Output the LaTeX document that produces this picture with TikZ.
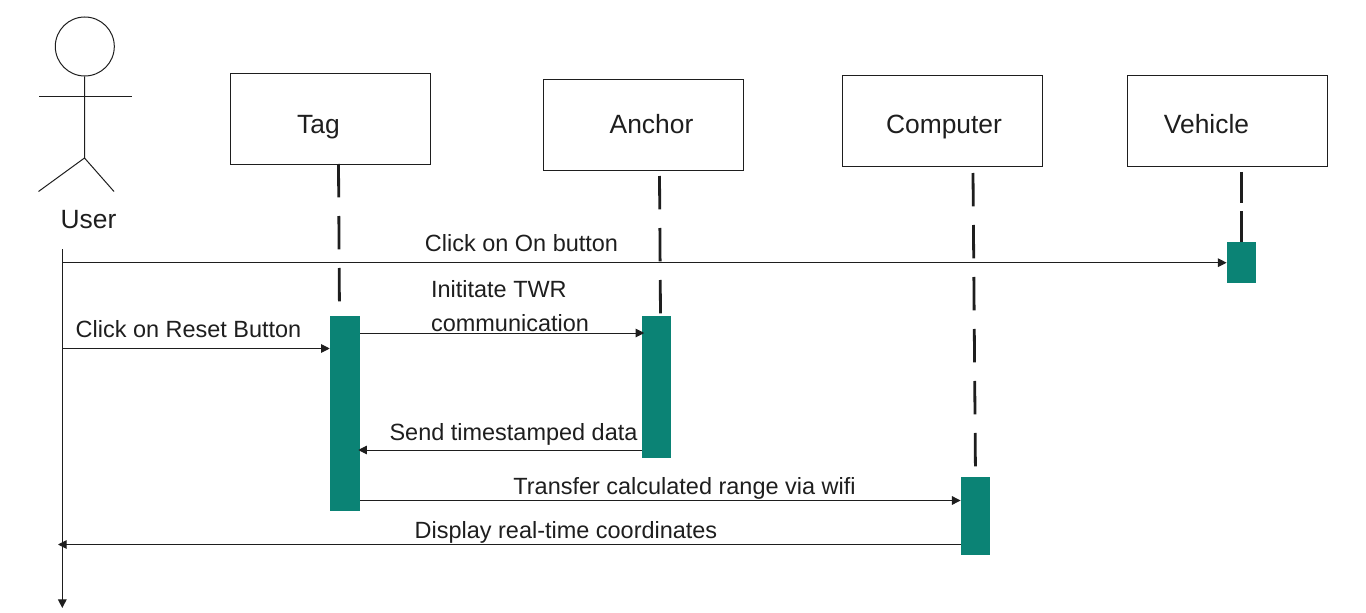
\documentclass[tikz,border=0pt]{standalone}
\usepackage{fontspec}
\setmainfont{Liberation Sans}
\usetikzlibrary{arrows.meta}
\definecolor{barteal}{HTML}{0B8375}
\definecolor{inkgray}{HTML}{1E1E1E}
\tikzset{>={Triangle[length=6.5pt,width=6.5pt]}}
\begin{document}
\begin{tikzpicture}[x=0.75pt,y=-0.75pt,text=inkgray,font=\fontsize{17.6}{25.5}\selectfont]
  \tikzstyle{lifebox}=[rectangle,draw=inkgray,line width=0.75pt,minimum width=150pt,minimum height=68.25pt,inner sep=0pt]
  \tikzstyle{activebar}=[rectangle,fill=barteal,minimum width=22pt,inner sep=0pt]
  \tikzstyle{lifeline}=[draw=inkgray,line width=2.1pt,dash pattern=on 25pt off 14pt]
  \tikzstyle{msg}=[->,draw=inkgray,line width=0.75pt]
  \tikzstyle{stick}=[draw=inkgray,line width=0.75pt]
  \tikzstyle{boxtext}=[anchor=base,font=\fontsize{19.8}{24}\selectfont]
  \tikzstyle{msgtext}=[anchor=base]
  \useasboundingbox (0,0) rectangle (1366,613);

  \node[lifebox] (tag) at (330.7,118.7) {};
  \node[lifebox] (anchor) at (643.2,125.2) {};
  \node[lifebox] (computer) at (942.2,121.5) {};
  \node[lifebox] (vehicle) at (1227.2,121.5) {};
  \node[boxtext] (tagtext) at (318.5,134) {Tag};
  \node[boxtext] (anchortext) at (651.5,134) {Anchor};
  \node[boxtext] (computertext) at (944,134) {Computer};
  \node[boxtext] (vehicletext) at (1206.5,134) {Vehicle};

  % lifelines go under the bars
  \coordinate (tagtop) at (338.5,164);
  \coordinate (anchortop) at (659.5,176);
  \coordinate (computertop) at (973,173);
  \coordinate (vehicletop) at (1241.5,172);
  \coordinate (tagend) at (339.5,316);
  \coordinate (anchorend) at (660.5,316);
  \coordinate (computerend) at (975.5,477);
  \coordinate (vehicleend) at (1241.5,242);
  \draw[lifeline] (tagtop) -- (tagend);
  \draw[lifeline] (anchortop) -- (anchorend);
  \draw[lifeline] (computertop) -- (computerend);
  \draw[lifeline,dash pattern=on 23.25pt off 6pt] (vehicletop) -- (vehicleend);

  \node[activebar,minimum width=22.5pt,minimum height=146.25pt] (tagbar) at (345,413.5) {};
  \node[activebar,minimum height=106.5pt] (anchorbar) at (656.5,387) {};
  \node[activebar,minimum height=58.5pt] (computerbar) at (975.5,516) {};
  \node[activebar,minimum height=30.75pt] (vehiclebar) at (1241.5,262.5) {};

  % user figure
  \node[circle,stick,minimum size=44.25pt,inner sep=0pt] (head) at (84.8,46.5) {};
  \coordinate (hip) at (84.5,158);
  \coordinate (armleft) at (39,96.5);
  \coordinate (armright) at (131.5,96.5);
  \coordinate (footleft) at (38.5,191.5);
  \coordinate (footright) at (114,191.5);
  \draw[stick] (head) -- (hip);
  \draw[stick] (armleft) -- (armright);
  \draw[stick] (footleft) -- (hip) -- (footright);
  \node[boxtext] (user) at (88.5,228) {User};

  \coordinate (usertop) at (62.3,249);
  \coordinate (userend) at (62.3,608);
  \coordinate (useron) at (62.3,262.7);
  \coordinate (userreset) at (62.3,348.5);
  \coordinate (userback) at (58,544.5);
  \draw[msg] (usertop) -- (userend);

  \path (useron) edge[msg] (vehiclebar.west |- useron);
  \path (userreset) edge[msg] (tagbar.west |- userreset);
  \path (tagbar.east |- 0,333) edge[msg,shorten >=-2pt] (anchorbar.west |- 0,333);
  \path (anchorbar.west |- 0,450) edge[msg,shorten >=-1.5pt] (tagbar.east |- 0,450);
  \path (tagbar.east |- 0,500.5) edge[msg] (computerbar.west |- 0,500.5);
  \path (computerbar.west |- userback) edge[msg] (userback);

  \node[msgtext] (lblon) at (521.5,251) {Click on On button};
  \node[align=left] (lbltwr) at (510,306) {Inititate TWR\\communication};
  \node[msgtext] (lblreset) at (188.5,337) {Click on Reset Button};
  \node[msgtext] (lblsend) at (513.5,440.5) {Send timestamped data};
  \node[msgtext] (lbltransfer) at (684.5,494.5) {Transfer calculated range via wifi};
  \node[msgtext] (lbldisplay) at (566,538.5) {Display real-time coordinates};
\end{tikzpicture}
\end{document}
